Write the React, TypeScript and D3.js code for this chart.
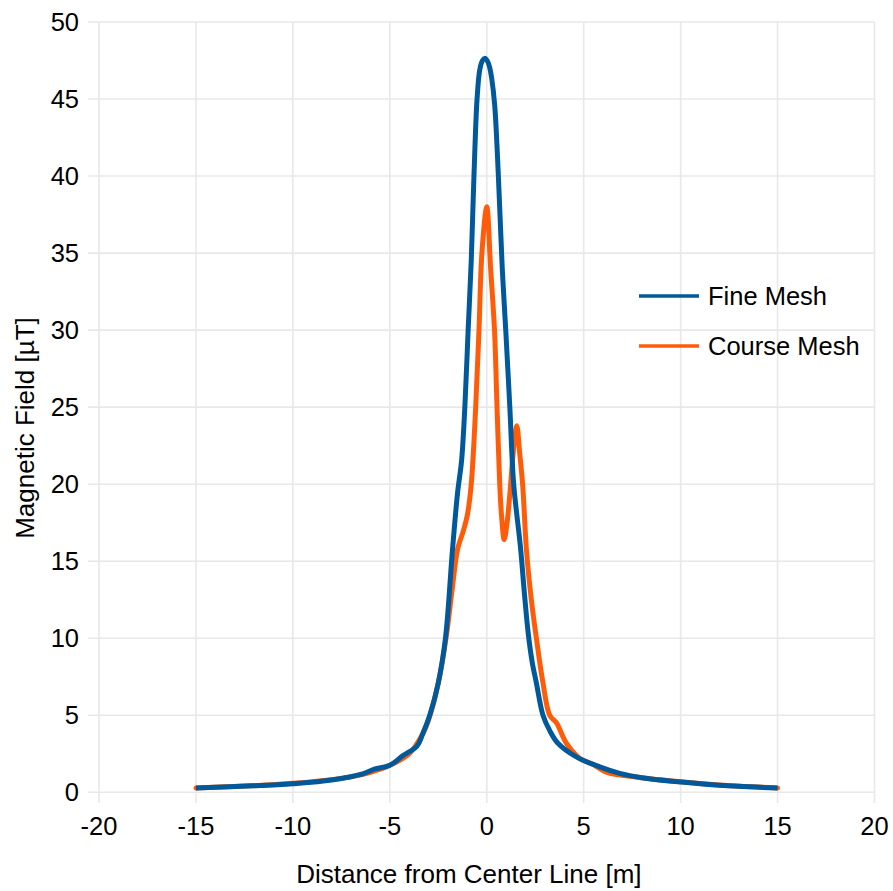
import React from "react";
import * as d3 from "d3";

const fineX = [-15, -12, -10, -8, -6.4, -5.8, -5.0, -4.3, -3.6, -3.3, -2.94, -2.5, -2.13, -1.77, -1.5, -1.3, -1.13, -0.96, -0.8, -0.66, -0.5, -0.36, -0.22, -0.1, 0.02, 0.14, 0.26, 0.41, 0.6, 0.8, 0.98, 1.19, 1.39, 1.74, 1.95, 2.15, 2.35, 2.56, 2.9, 3.25, 3.66, 4.62, 5.83, 6.86, 8, 10, 12, 15];
const fineY = [0.28, 0.42, 0.56, 0.8, 1.2, 1.5, 1.75, 2.4, 3.0, 3.8, 5, 7.1, 10, 15.7, 19.5, 21.5, 25, 30, 34.5, 40, 45, 46.9, 47.5, 47.65, 47.5, 47.1, 46.3, 44.6, 40, 34, 30, 25, 20, 15.9, 12.8, 10.2, 8.4, 7.1, 5, 4, 3.2, 2.3, 1.65, 1.23, 0.95, 0.67, 0.45, 0.28];

const courseX = [-15, -10, -7, -6, -5, -4, -3.3, -3, -2.5, -2.1, -1.8, -1.5, -1.2, -1.0, -0.8, -0.57, -0.4, -0.25, 0, 0.2, 0.4, 0.53, 0.67, 0.76, 0.9, 1.05, 1.2, 1.4, 1.55, 1.7, 1.85, 2.05, 2.3, 2.56, 2.9, 3.25, 3.6, 4.1, 4.8, 5.5, 6.2, 8, 10, 12, 15];
const courseY = [0.28, 0.58, 1.0, 1.3, 1.75, 2.5, 3.8, 4.7, 7.1, 10, 13, 15.8, 17.0, 18.0, 20, 25, 30, 35, 38, 34, 30, 25, 20, 18, 16.4, 17.5, 19.5, 22.5, 23.8, 22, 20, 15.7, 12.5, 10, 7.1, 5, 4.5, 3.2, 2.2, 1.8, 1.3, 0.95, 0.68, 0.48, 0.28];

const xTicks = [-20, -15, -10, -5, 0, 5, 10, 15, 20];
const yTicks = [0, 5, 10, 15, 20, 25, 30, 35, 40, 45, 50];
const seriesNames = ["Fine Mesh", "Course Mesh"];

const BLUE = "#00599a";
const ORANGE = "#ff5c0a";

export default function App() {
  const W = 893, H = 891;
  const x = d3.scaleLinear().domain([-20, 20]).range([99, 874.5]);
  const y = d3.scaleLinear().domain([0, 50]).range([792.3, 22]);
  const line = d3
    .line<[number, number]>()
    .x((d) => x(d[0]))
    .y((d) => y(d[1]))
    .curve(d3.curveCatmullRom.alpha(0.5));
  const fine = fineX.map((v, i) => [v, fineY[i]] as [number, number]);
  const course = courseX.map((v, i) => [v, courseY[i]] as [number, number]);
  const font = "'Liberation Sans', Arial, sans-serif";
  const grid = "#e8e8e8";
  return (
    <svg width={W} height={H} style={{ position: "absolute", left: 0, top: 0, background: "#fff" }} fontFamily={font}>
      <rect width={W} height={H} fill="#fff" />
      {yTicks.map((t) => (
        <g key={"y" + t}>
          <line x1={88} x2={x(20)} y1={y(t)} y2={y(t)} stroke={grid} strokeWidth={1.6} />
          <text x={79} y={y(t)} dy="0.36em" textAnchor="end" fontSize={25.5} fill="#000">
            {t}
          </text>
        </g>
      ))}
      {xTicks.map((t) => (
        <g key={"x" + t}>
          <line x1={x(t)} x2={x(t)} y1={y(50)} y2={803} stroke={grid} strokeWidth={1.6} />
          <text x={x(t)} y={835} textAnchor="middle" fontSize={25.5} fill="#000">
            {t}
          </text>
        </g>
      ))}
      <path d={line(course) || ""} fill="none" stroke={ORANGE} strokeWidth={5} strokeLinejoin="round" strokeLinecap="round" />
      <path d={line(fine) || ""} fill="none" stroke={BLUE} strokeWidth={5} strokeLinejoin="round" strokeLinecap="butt" />
      <g>
        <line x1={639} x2={699} y1={296} y2={296} stroke={BLUE} strokeWidth={3.5} />
        <text x={708} y={296} dy="0.36em" fontSize={25.5} fill="#000">{seriesNames[0]}</text>
        <line x1={639} x2={699} y1={346} y2={346} stroke={ORANGE} strokeWidth={3.5} />
        <text x={708} y={346} dy="0.36em" fontSize={25.5} fill="#000">{seriesNames[1]}</text>
      </g>
      <text x={(296.7 + 641) / 2} y={883} textAnchor="middle" fontSize={26} fill="#000">
        Distance from Center Line [m]
      </text>
      <text transform={`translate(34,428) rotate(-90)`} textAnchor="middle" fontSize={26} fill="#000">
        Magnetic Field [µT]
      </text>
    </svg>
  );
}
